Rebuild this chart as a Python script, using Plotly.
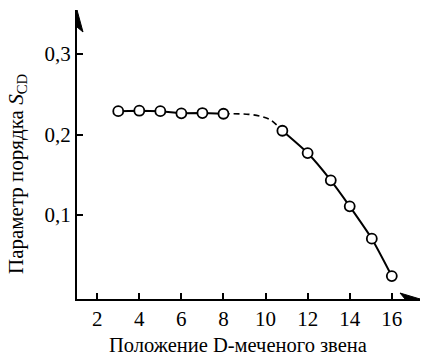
import plotly.graph_objects as go

# Data
x_plateau = [3, 4, 5, 6, 7, 8]
y_plateau = [0.229, 0.2296, 0.229, 0.2263, 0.2267, 0.2258]

x_bridge = [8, 9.2, 9.85, 10.25, 10.8]
y_bridge = [0.2258, 0.2251, 0.2221, 0.218, 0.2047]

x_drop = [10.8, 12, 13.1, 14, 15.05, 16]
y_drop = [0.2047, 0.177, 0.1431, 0.1108, 0.0706, 0.0242]

x_ticks = [2, 4, 6, 8, 10, 12, 14, 16]
y_ticks = [0.1, 0.2, 0.3]
y_tick_labels = ["0,1", "0,2", "0,3"]

X_RANGE = [1.04, 17.34]
Y_RANGE = [-0.0043, 0.3547]

FONT = "Liberation Serif, Times New Roman, serif"
tick_font = dict(family=FONT, size=21, color="black")

marker = dict(symbol="circle", size=10, color="white", line=dict(color="black", width=1.8))

fig = go.Figure()
fig.add_trace(go.Scatter(x=x_bridge, y=y_bridge, mode="lines", line=dict(color="black", width=1.6, dash="6px,4px", shape="spline"), hoverinfo="skip"))
fig.add_trace(go.Scatter(x=x_plateau, y=y_plateau, mode="lines+markers", line=dict(color="black", width=2), marker=marker))
fig.add_trace(go.Scatter(x=x_drop, y=y_drop, mode="lines+markers", line=dict(color="black", width=2, shape="spline", smoothing=0.6), marker=marker))

fig.update_layout(
    width=427, height=359, margin=dict(l=77, r=7, t=10, b=60), showlegend=False,
    plot_bgcolor="white", paper_bgcolor="white",
    font=dict(family=FONT, size=21, color="black"),
    xaxis=dict(range=X_RANGE, tickmode="array", tickvals=x_ticks, ticks="inside", ticklen=6, tickwidth=1.5, tickcolor="black",
               showline=True, linecolor="black", linewidth=2, showgrid=False, zeroline=False,
               tickfont=tick_font, ticklabelstandoff=0),
    yaxis=dict(range=Y_RANGE, tickmode="array", tickvals=y_ticks, ticktext=y_tick_labels, ticks="inside", ticklen=6, tickwidth=1.5,
               tickcolor="black", showline=True, linecolor="black", linewidth=2, showgrid=False, zeroline=False,
               tickfont=tick_font, ticklabelstandoff=0),
)

# Axis arrowheads
fig.add_shape(type="path", xsizemode="pixel", ysizemode="pixel", xanchor=X_RANGE[1], yanchor=Y_RANGE[0],
              xref="x", yref="y", path="M0,0 L-20,6 L-15,0 L-20,-6 Z", fillcolor="black", line=dict(color="black", width=1))
fig.add_shape(type="path", xsizemode="pixel", ysizemode="pixel", xanchor=X_RANGE[0], yanchor=Y_RANGE[1],
              xref="x", yref="y", path="M0,0 L-6,-22 L0,-17 L6,-22 Z", fillcolor="black", line=dict(color="black", width=1))

fig.add_annotation(text="Положение D-меченого звена", xref="paper", yref="paper", x=0.469, y=-0.158,
                   showarrow=False, xanchor="center", yanchor="middle", font=dict(family=FONT, size=20.5, color="black"))
fig.add_annotation(text="Параметр порядка <i>S</i><sub>CD</sub>", xref="paper", yref="paper", x=-0.175, y=0.4325,
                   textangle=-90, showarrow=False, xanchor="center", yanchor="middle", font=dict(family=FONT, size=21, color="black"))

fig.write_html("out.html", config={"displayModeBar": False},
               post_script="document.body.style.margin='0';document.body.style.overflow='hidden';")
